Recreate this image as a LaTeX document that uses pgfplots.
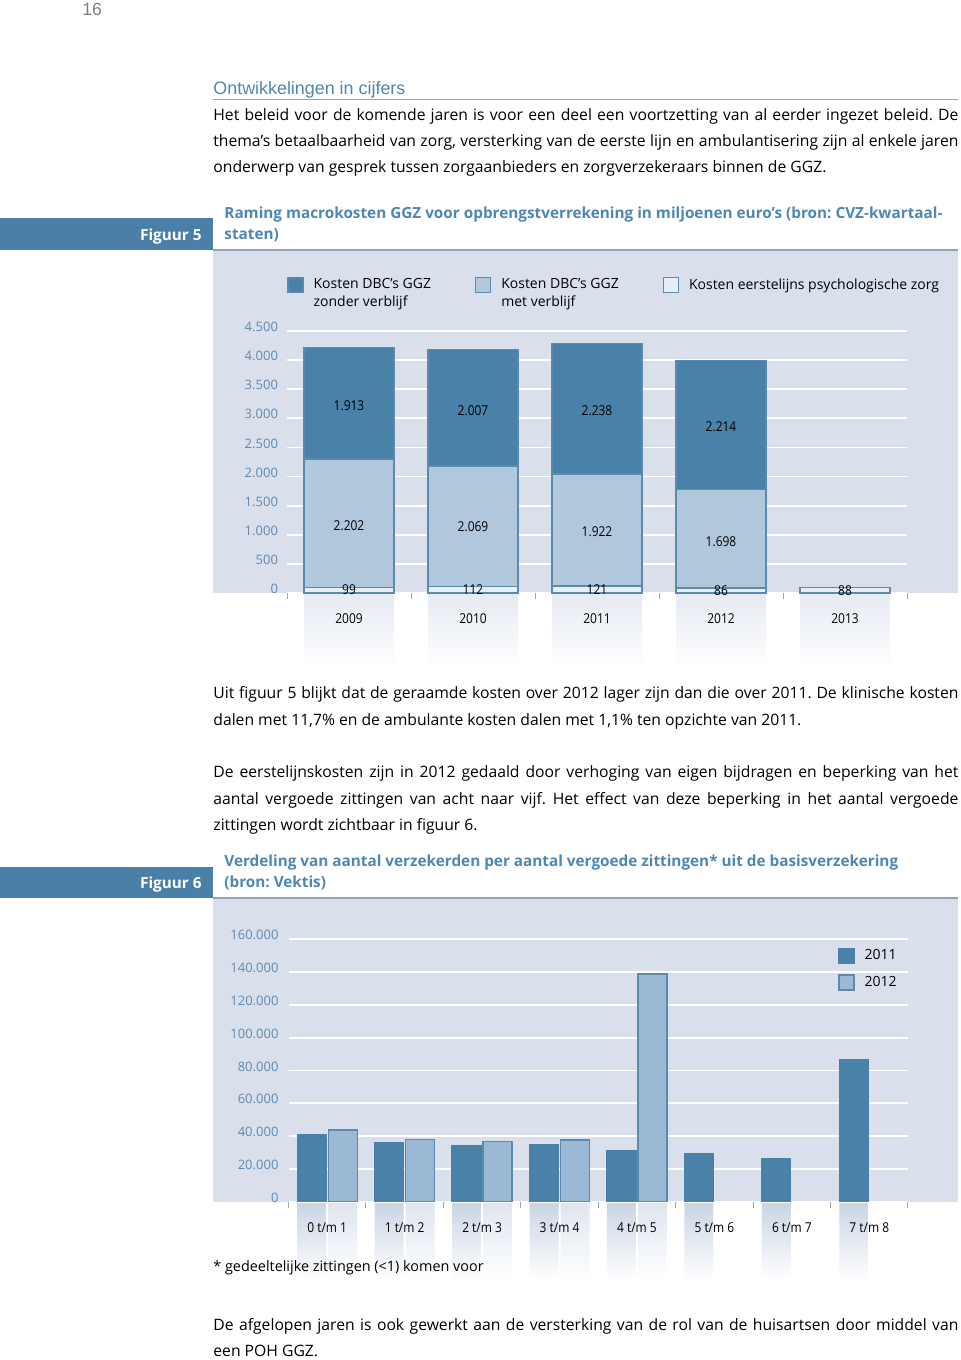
\documentclass[border=0pt]{standalone}
\usepackage{fontspec}
\setmainfont{Open Sans}
\newfontfamily\condf[FakeStretch=0.88]{Open Sans}
\newfontfamily\arialf{Liberation Sans}
\usepackage{pgfplots}
\pgfplotsset{compat=1.18}
\definecolor{dkblue}{HTML}{4A81A9}
\definecolor{lt5}{HTML}{B1C7DC}
\definecolor{lt6}{HTML}{9BB8D4}
\definecolor{wbar}{HTML}{E6EEF6}
\definecolor{panel}{HTML}{D9E0EC}
\definecolor{bord}{HTML}{5B8AAE}
\definecolor{tblue}{HTML}{4E87B2}
\definecolor{ticklab}{HTML}{6189AD}
\definecolor{rulec}{HTML}{8DA5BC}
\definecolor{headbox}{HTML}{4A80A8}
\definecolor{ghost}{HTML}{E6EAF2}
\definecolor{ghostdk}{HTML}{C9D4E3}
\definecolor{ghostlt}{HTML}{DEE5EF}
\frenchspacing
\newcommand{\body}{\fontsize{7.85}{9.5}\selectfont}
\newcommand{\ttlf}{\fontsize{7.65}{9.5}\selectfont}
\newcommand{\jline}[3]{\node[anchor=base west,inner sep=0pt] at (#1,#2) {\body\makebox[372.5pt][s]{#3}};}
\newcommand{\nline}[3]{\node[anchor=base west,inner sep=0pt] at (#1,#2) {\body #3};}
\newcommand{\ttl}[3]{\node[anchor=base west,inner sep=0pt,text=tblue] at (#1,#2) {\ttlf\bfseries #3};}
\begin{document}
\begin{tikzpicture}
\begin{scope}[x=0.5pt,y=-0.5pt]
\useasboundingbox (0,0) rectangle (960,1360);
\fill[white] (0,0) rectangle (960,1360);
% page number and heading
\node[anchor=base west,inner sep=0pt,text=black!50] at (82,15) {\arialf\fontsize{8.8}{10}\selectfont 16};
\node[anchor=base west,inner sep=0pt,text=tblue] at (213,94) {\arialf\fontsize{8.95}{10}\selectfont Ontwikkelingen in cijfers};
\draw[rulec, line width=0.8pt] (213,99.5) -- (958,99.5);
\jline{213}{120}{Het beleid voor de komende jaren is voor een deel een voortzetting van al eerder ingezet beleid. De}
\jline{213}{146}{thema’s betaalbaarheid van zorg, versterking van de eerste lijn en ambulantisering zijn al enkele jaren}
\nline{213}{172}{onderwerp van gesprek tussen zorgaanbieders en zorgverzekeraars binnen de GGZ.}
% ---------- Figuur 5 header
\fill[headbox] (0,218) rectangle (213,250);
\node[anchor=base east,inner sep=0pt,text=white] at (202,240) {\ttlf\bfseries Figuur 5};
\ttl{224}{218}{Raming macrokosten GGZ voor opbrengstverrekening in miljoenen euro’s (bron: CVZ-kwartaal-}
\ttl{224}{239}{staten)}
\fill[panel] (213,250) rectangle (958,593);
\draw[rulec, line width=1pt] (213,249.5) -- (958,249.5);
% text between figures
\jline{213}{698}{Uit figuur 5 blijkt dat de geraamde kosten over 2012 lager zijn dan die over 2011. De klinische kosten}
\nline{213}{725}{dalen met 11,7\% en de ambulante kosten dalen met 1,1\% ten opzichte van 2011.}
\jline{213}{777}{De eerstelijnskosten zijn in 2012 gedaald door verhoging van eigen bijdragen en beperking van het}
\jline{213}{804}{aantal vergoede zittingen van acht naar vijf. Het effect van deze beperking in het aantal vergoede}
\nline{213}{830}{zittingen wordt zichtbaar in figuur 6.}
% ---------- Figuur 6 header
\fill[headbox] (0,867) rectangle (213,898);
\node[anchor=base east,inner sep=0pt,text=white] at (202,888) {\ttlf\bfseries Figuur 6};
\ttl{224}{866}{Verdeling van aantal verzekerden per aantal vergoede zittingen* uit de basisverzekering}
\ttl{224}{887}{(bron: Vektis)}
\fill[panel] (213,898) rectangle (958,1201.7);
\draw[rulec, line width=1pt] (213,897.5) -- (958,897.5);
\jline{213}{1330}{De afgelopen jaren is ook gewerkt aan de versterking van de rol van de huisartsen door middel van}
\nline{213}{1356}{een POH GGZ.}
\end{scope}
% reflections fig 5
\begin{axis}[at={(143.5pt,-296.5pt)}, anchor=south west, scale only axis, width=310pt, height=131pt,
  xmin=-0.5, xmax=4.5, ymin=0, ymax=4500, hide axis, clip=false]
\addplot[ybar, bar width=45pt, bar shift=0pt, draw=none, top color=ghost, bottom color=white]
  coordinates {(0,-1300)(1,-1300)(2,-1300)(3,-1300)(4,-1300)};
\end{axis}
% main fig 5
\begin{axis}[at={(143.5pt,-296.5pt)}, anchor=south west, scale only axis, width=310pt, height=131pt,
  xmin=-0.5, xmax=4.5, ymin=0, ymax=4500,
  ytick={0,500,...,4500},
  xtick={0,1,2,3,4}, xticklabels={2009,2010,2011,2012,2013},
  minor xtick={-0.5,0.5,1.5,2.5,3.5,4.5},
  major tick length=0pt, minor tick length=3pt, tick align=outside, tick pos=left,
  minor tick style={black!35, line width=0.5pt},
  axis line style={draw=none},
  ymajorgrids, major grid style={white, line width=0.9pt},
  /pgf/number format/.cd, fixed, precision=0, 1000 sep={.}, assume math mode=true, /pgfplots/.cd,
  scaled y ticks=false,
  yticklabel style={font=\fontsize{6.5}{8}\selectfont, text=ticklab, xshift=-1pt, yshift=2pt},
  xticklabel style={font=\condf\fontsize{6.8}{8}\selectfont, yshift=-7pt},
  ybar stacked, bar width=45pt,
  legend style={at={(0,1.2175)}, anchor=north west, draw=none, fill=none, legend columns=3,
    font=\fontsize{7}{8.6}\selectfont, cells={align=left, anchor=north west},
    /tikz/every odd column/.append style={column sep=3pt},
    /tikz/every even column/.append style={column sep=20pt}, inner sep=0pt},
  legend image code/.code={\draw[#1, line width=0.6pt] (0pt,-9pt) rectangle (7.5pt,-1.5pt);},
  reverse legend, clip=false]
\addplot[fill=wbar, draw=bord, line width=0.6pt] coordinates {(0,99)(1,112)(2,121)(3,86)(4,88)};
\addlegendentry{Kosten eerstelijns psychologische zorg}
\addplot[fill=lt5, draw=bord, line width=0.6pt] coordinates {(0,2202)(1,2069)(2,1922)(3,1698)};
\addlegendentry{Kosten DBC's GGZ\\met verblijf}
\addplot[fill=dkblue, draw=bord, line width=0.6pt] coordinates {(0,1913)(1,2007)(2,2238)(3,2214)};
\addlegendentry{Kosten DBC's GGZ\\zonder verblijf}
\end{axis}
% labels fig 5
\begin{axis}[at={(143.5pt,-296.5pt)}, anchor=south west, scale only axis, width=310pt, height=131pt,
  xmin=-0.5, xmax=4.5, ymin=0, ymax=4500, hide axis, clip=false]
\addplot[only marks, mark=*, mark size=0pt, mark options={draw=none,fill=none},
  nodes near coords, point meta=explicit symbolic,
  every node near coord/.append style={anchor=center, font=\condf\fontsize{6.8}{8}\selectfont, text=black}]
  coordinates {(0,3210)[1.913] (1,3140)[2.007] (2,3130)[2.238] (3,2860)[2.214]
  (0,1150)[2.202] (1,1140)[2.069] (2,1060)[1.922] (3,880)[1.698]
  (0,49.5)[99] (1,56)[112] (2,60.5)[121] (3,43)[86] (4,44)[88]};
\end{axis}
% reflections fig 6
\begin{axis}[at={(144.25pt,-600.85pt)}, anchor=south west, scale only axis, width=309.75pt, height=131.2pt,
  xmin=-0.5, xmax=7.5, ymin=0, ymax=160000, hide axis, clip=false, ybar, bar width=14.5pt]
\addplot[bar shift=-7.75pt, draw=none, top color=ghostdk, bottom color=white]
  coordinates {(0,-48000)(1,-48000)(2,-48000)(3,-48000)(4,-48000)(5,-48000)(6,-48000)(7,-48000)};
\addplot[bar shift=7.75pt, draw=none, top color=ghostlt, bottom color=white]
  coordinates {(0,-48000)(1,-48000)(2,-48000)(3,-48000)(4,-48000)};
\end{axis}
% main fig 6
\begin{axis}[at={(144.25pt,-600.85pt)}, anchor=south west, scale only axis, width=309.75pt, height=131.2pt,
  xmin=-0.5, xmax=7.5, ymin=0, ymax=160000,
  ytick={0,20000,40000,60000,80000,100000,120000,140000,160000},
  xtick={0,...,7}, xticklabels={0 t/m 1,1 t/m 2,2 t/m 3,3 t/m 4,4 t/m 5,5 t/m 6,6 t/m 7,7 t/m 8},
  minor xtick={-0.5,0.5,...,7.5},
  major tick length=0pt, minor tick length=3pt, tick align=outside, tick pos=left,
  minor tick style={black!35, line width=0.5pt},
  axis line style={draw=none},
  ymajorgrids, major grid style={white, line width=0.9pt},
  /pgf/number format/.cd, fixed, precision=0, 1000 sep={.}, assume math mode=true, /pgfplots/.cd,
  scaled y ticks=false,
  yticklabel style={font=\fontsize{6.5}{8}\selectfont, text=ticklab, xshift=-1.5pt, yshift=2pt},
  xticklabel style={font=\condf\fontsize{6.8}{8}\selectfont, yshift=-7pt},
  ybar, bar width=14.5pt,
  legend style={at={(0.887,0.977)}, anchor=north west, draw=none, fill=none,
    font=\fontsize{7}{8.6}\selectfont, row sep=2.5pt, inner sep=0pt, cells={anchor=west},
    /tikz/every odd column/.append style={column sep=3pt}},
  legend image code/.code={\draw[#1, line width=0.6pt] (0pt,-3.75pt) rectangle (7.5pt,3.75pt);},
  clip=false]
\addplot[bar shift=-7.75pt, fill=dkblue, draw=dkblue, line width=0.6pt]
  coordinates {(0,41100)(1,36000)(2,34100)(3,34800)(4,31100)(5,29500)(6,26200)(7,86800)};
\addlegendentry{2011}
\addplot[bar shift=7.75pt, fill=lt6, draw=bord, line width=0.6pt]
  coordinates {(0,43700)(1,38000)(2,36800)(3,37600)(4,138800)};
\addlegendentry{2012}
\end{axis}
\begin{scope}[x=0.5pt,y=-0.5pt]
\node[anchor=base west,inner sep=0pt] at (213,1271) {\fontsize{7.2}{9}\selectfont * gedeeltelijke zittingen (<1) komen voor};
\end{scope}
\end{tikzpicture}
\end{document}
